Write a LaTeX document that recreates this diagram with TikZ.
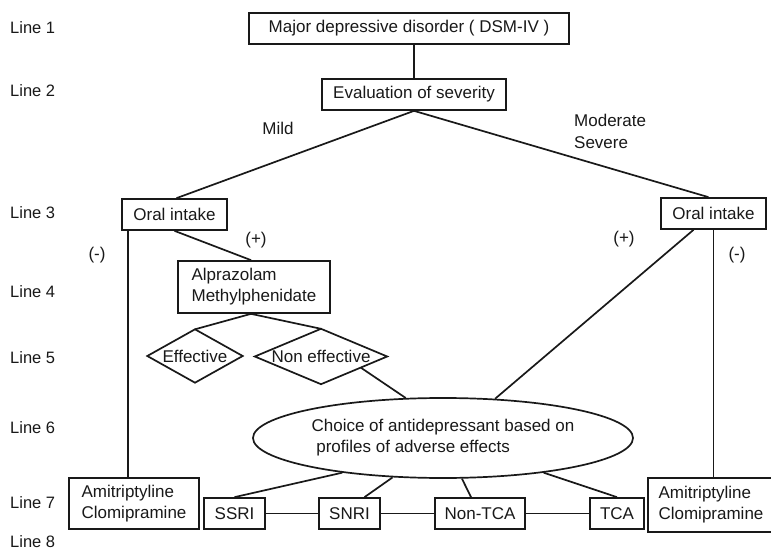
\documentclass[tikz,border=0pt]{standalone}
\usepackage{fontspec}
\setmainfont{Liberation Sans}
\usetikzlibrary{shapes.geometric,calc}
\begin{document}
\begin{tikzpicture}[x=1pt,y=-1pt,
  every node/.style={font=\fontsize{17}{21}\selectfont, inner sep=0pt, text=black!90},
  box/.style={draw=black!90, line width=1.7pt, minimum height=31pt},
  conn/.style={draw=black!90, line width=1.7pt},
  lbl/.style={anchor=west, font=\fontsize{16.5}{20}\selectfont}]
\useasboundingbox[fill=white] (0,0) rectangle (771,553);

% line labels
\node[lbl] (l1) at (10,28) {Line 1};
\node[lbl] (l2) at (10,91) {Line 2};
\node[lbl] (l3) at (10,213) {Line 3};
\node[lbl] (l4) at (10,292) {Line 4};
\node[lbl] (l5) at (10,358) {Line 5};
\node[lbl] (l6) at (10,428) {Line 6};
\node[lbl] (l7) at (10,503) {Line 7};
\node[lbl] (l8) at (10,542) {Line 8};

% boxes
\node[box, minimum width=320pt] (top) at (409,28.5) {Major depressive disorder ( DSM-IV )};
\node[box, minimum width=184pt] (eval) at (414,94.5) {Evaluation of severity};
\node[box, minimum width=105pt] (oralL) at (174.5,214.5) {Oral intake};
\node[box, minimum width=105pt] (oralR) at (713.5,213.5) {Oral intake};
\node[box, minimum width=152pt, minimum height=52pt, align=left] (alp) at (254,287) {Alprazolam\\Methylphenidate};

% diamonds
\node[minimum width=95pt, minimum height=53pt] (eff) at (195,356) {Effective};
\draw[conn] (eff.north) -- (eff.east) -- (eff.south) -- (eff.west) -- cycle;
\node[minimum width=132pt, minimum height=55pt] (neff) at (321,356.5) {Non effective};
\draw[conn] (neff.north) -- (neff.east) -- (neff.south) -- (neff.west) -- cycle;

% ellipse
\node[draw=black!90, line width=1.7pt, ellipse, minimum width=380pt, minimum height=80pt, align=left] (ell) at (443,438) {Choice of antidepressant based on\\\ profiles of adverse effects};

% bottom boxes
\node[box, minimum width=130pt, minimum height=51pt, align=left] (amiL) at (134,503.5) {Amitriptyline\\Clomipramine};
\node[box, minimum width=126pt, minimum height=54pt, align=left] (amiR) at (711,505) {Amitriptyline\\Clomipramine};
\node[box, minimum width=61pt] (ssri) at (234.5,513.5) {SSRI};
\node[box, minimum width=61pt] (snri) at (349.5,513.5) {SNRI};
\node[box, minimum width=90pt] (ntca) at (480,513.5) {Non-TCA};
\node[box, minimum width=54pt] (tca) at (617,513.5) {TCA};

% labels
\node (mild) at (278,128) {Mild};
\node[align=left, anchor=west, font=\fontsize{17}{22}\selectfont] (modsev) at (574,131) {Moderate\\Severe};
\node (plusL) at (256,240) {(+)};
\node (minusL) at (97,255) {(-)};
\node (plusR) at (624,239) {(+)};
\node (minusR) at (737,255) {(-)};

% connectors
\draw[conn] (eval.north |- top.south) -- (eval.north);
\draw[conn] (eval.south) -- ([xshift=2pt]oralL.north);
\draw[conn] (eval.south) -- ([xshift=-5pt]oralR.north);
\draw[conn] (oralL.south) -- ([xshift=-3pt]alp.north);
\draw[conn] ([xshift=7pt]oralL.south west) -- ([xshift=7pt]oralL.south west |- amiL.north);
\draw[conn] (oralR.south) -- (oralR.south |- amiR.north);
\draw[conn] ([xshift=-20pt]oralR.south) -- (ell.37);
\draw[conn] ([xshift=-3pt]alp.south) -- (eff.north);
\draw[conn] ([xshift=-3pt]alp.south) -- (neff.north);
\draw[conn] ($(neff.east)!0.4!(neff.south)$) -- (ell.133);
\draw[conn] (ell.199) -- (ssri.north);
\draw[conn] (ell.218) -- ([xshift=15pt]snri.north);
\draw[conn] (ell.295) -- ([xshift=-9pt]ntca.north);
\draw[conn] (ell.341) -- (tca.north);
\draw[conn] (ssri) -- (snri);
\draw[conn] (snri) -- (ntca);
\draw[conn] (ntca) -- (tca);
\end{tikzpicture}
\end{document}
